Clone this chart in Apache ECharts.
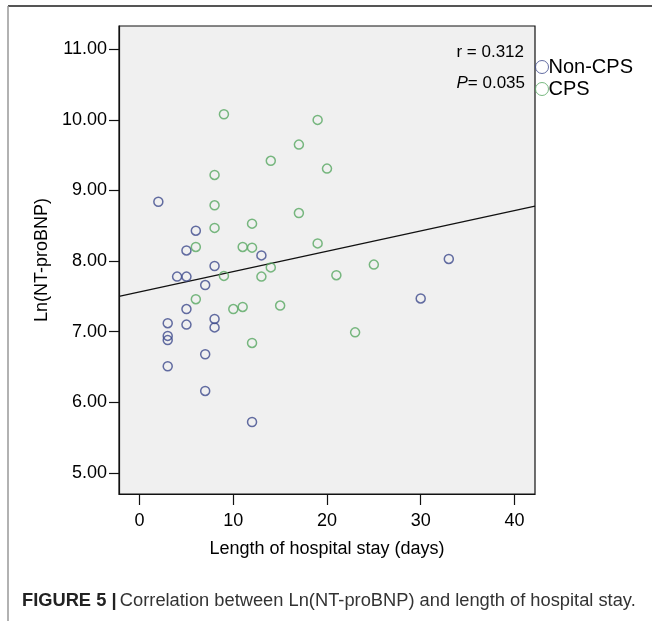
<!DOCTYPE html>
<html>
<head>
<meta charset="utf-8">
<script src="https://cdn.jsdelivr.net/npm/echarts@6/dist/echarts.min.js"></script>
<style>
  html, body { margin: 0; padding: 0; background: #fff; }
  #chart { width: 652px; height: 621px; }
</style>
</head>
<body>
<div id="chart"></div>
<script>
// Non-CPS points [length of stay (days), Ln(NT-proBNP)]
var nonCpsData = [
  [2, 8.84], [6, 8.43], [5, 8.15], [13, 8.08], [8, 7.93], [4, 7.78], [5, 7.78],
  [7, 7.66], [5, 7.32], [3, 7.12], [5, 7.10], [8, 7.18], [8, 7.06], [3, 6.94],
  [3, 6.88], [7, 6.68], [3, 6.51], [7, 6.16], [12, 5.72], [33, 8.03], [30, 7.47]
];
// CPS points
var cpsData = [
  [9, 10.08], [19, 10.00], [17, 9.65], [14, 9.42], [20, 9.31], [8, 9.22], [8, 8.79],
  [17, 8.68], [12, 8.53], [8, 8.47], [19, 8.25], [6, 8.20], [11, 8.20], [12, 8.19],
  [14, 7.91], [9, 7.79], [13, 7.78], [21, 7.80], [25, 7.95], [6, 7.46], [10, 7.32],
  [11, 7.35], [15, 7.37], [23, 6.99], [12, 6.84]
];
var seriesNames = ['Non-CPS', 'CPS'];
var xTicks = [0, 10, 20, 30, 40];
var yTicks = [5, 6, 7, 8, 9, 10, 11];
var xRange = [-2.2, 42.2];
var yRange = [4.70, 11.33];
// fitted line
var fitIntercept = 7.563;
var fitSlope = 0.0288;
var statR = '0.312';
var statP = '0.035';

var fitLine = [
  [xRange[0], fitIntercept + fitSlope * xRange[0]],
  [xRange[1], fitIntercept + fitSlope * xRange[1]]
];

var font = 'Liberation Sans, Arial, sans-serif';
var chart = echarts.init(document.getElementById('chart'));

function ring(color) {
  return { color: 'rgba(0,0,0,0)', borderColor: color, borderWidth: 1.5 };
}

chart.setOption({
  animation: false,
  backgroundColor: '#fff',
  grid: {
    left: 119, right: 117, top: 26, bottom: 127,
    show: true, backgroundColor: '#f0f0f0', borderColor: '#111', borderWidth: 1.2
  },
  legend: {
    data: seriesNames,
    orient: 'vertical',
    left: 530, top: 52,
    itemWidth: 13, itemHeight: 13, itemGap: 2,
    icon: 'circle',
    itemStyle: { borderWidth: 1 },
    textStyle: { fontFamily: font, fontSize: 20, color: '#000', padding: [0, 0, 0, -5] }
  },
  xAxis: {
    type: 'value', min: xRange[0], max: xRange[1],
    name: 'Length of hospital stay (days)', nameLocation: 'middle', nameGap: 46,
    nameTextStyle: { fontFamily: font, fontSize: 18, color: '#000' },
    axisLine: { show: true, onZero: false, lineStyle: { color: '#111', width: 1.2 } },
    axisTick: { show: true, length: 11, customValues: xTicks, lineStyle: { color: '#111', width: 1.2 } },
    axisLabel: { customValues: xTicks, fontFamily: font, fontSize: 18, color: '#000', margin: 18 },
    splitLine: { show: false }
  },
  yAxis: {
    type: 'value', min: yRange[0], max: yRange[1],
    name: 'Ln(NT-proBNP)', nameLocation: 'middle', nameGap: 66,
    nameTextStyle: { fontFamily: font, fontSize: 18, color: '#000' },
    axisLine: { show: true, onZero: false, lineStyle: { color: '#111', width: 1.2 } },
    axisTick: { show: true, length: 10, customValues: yTicks, lineStyle: { color: '#111', width: 1.2 } },
    axisLabel: {
      customValues: yTicks, fontFamily: font, fontSize: 18, color: '#000', margin: 12,
      formatter: function (v) { return v.toFixed(2); }
    },
    splitLine: { show: false }
  },
  series: [
    {
      name: seriesNames[0], type: 'scatter', symbol: 'circle', symbolSize: 9,
      itemStyle: ring('#3d4a8c'), data: nonCpsData, z: 3
    },
    {
      name: seriesNames[1], type: 'scatter', symbol: 'circle', symbolSize: 9,
      itemStyle: ring('#58a862'), data: cpsData, z: 3
    },
    {
      name: 'fit', type: 'line', data: fitLine, showSymbol: false, symbol: 'none',
      lineStyle: { color: '#111', width: 1.3 }, silent: true, z: 2
    }
  ],
  graphic: [
    { type: 'line', shape: { x1: 8, y1: 6, x2: 652, y2: 6 }, style: { stroke: '#555', lineWidth: 2 } },
    { type: 'line', shape: { x1: 8, y1: 6, x2: 8, y2: 621 }, style: { stroke: '#999', lineWidth: 1.5 } },
    {
      type: 'text', x: 524, y: 52,
      style: {
        text: 'r = ' + statR, align: 'right', verticalAlign: 'middle',
        font: '17px ' + font, fill: '#000'
      }
    },
    {
      type: 'text', x: 525, y: 83,
      style: {
        text: '{i|P}= ' + statP, align: 'right', verticalAlign: 'middle',
        font: '17px ' + font, fill: '#000',
        rich: { i: { fontStyle: 'italic', fontSize: 17, fontFamily: font, fill: '#000' } }
      }
    },
    {
      type: 'text', x: 22, y: 601,
      style: {
        text: '{b|FIGURE 5 |} {r|Correlation between Ln(NT-proBNP) and length of hospital stay.}',
        verticalAlign: 'middle',
        rich: {
          b: { fontWeight: 'bold', fontSize: 18.3, fontFamily: font, fill: '#222' },
          r: { fontSize: 18.3, fontFamily: font, fill: '#333' }
        }
      }
    }
  ]
});
</script>
</body>
</html>
